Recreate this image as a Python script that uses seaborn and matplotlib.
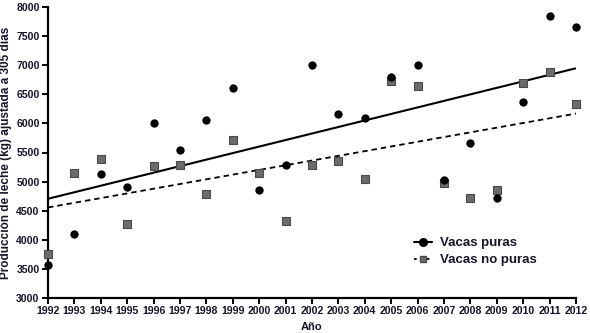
import numpy as np
import pandas as pd
import matplotlib
matplotlib.use("Agg")
import matplotlib.pyplot as plt
from matplotlib.lines import Line2D
import seaborn as sns

# Milk production (kg, adjusted to 305 days) per year
years = list(range(1992, 2013))
vacas_puras = [3560, 4100, 5130, 4900, 6000, 5540, 6050, 6600, 4860, 5280, 7010,
               6170, 6090, 6800, 7000, 5020, 5670, 4710, 6360, 7840, 7660]
vacas_no_puras = [3760, 5150, 5380, 4280, 5270, 5290, 4780, 5720, 5150, 4330, 5290,
                  5350, 5040, 6730, 6640, 4970, 4710, 4860, 6690, 6880, 6330]
y_ticks = list(range(3000, 8001, 500))
series_names = ["Vacas puras", "Vacas no puras"]

df = pd.DataFrame({"Año": years, "puras": vacas_puras, "no_puras": vacas_no_puras})

sns.set_theme(style="ticks")
plt.rcParams["font.family"] = ["Liberation Sans", "DejaVu Sans"]
txt = "#15152a"

fig = plt.figure(figsize=(5.9, 3.33), dpi=100)
ax = fig.add_axes([48 / 590, 1 - 298 / 333, (576 - 48) / 590, (298 - 7) / 333])

# regression lines
sns.regplot(data=df, x="Año", y="puras", scatter=False, ci=None, truncate=True,
            line_kws=dict(color="black", lw=1.5, solid_capstyle="butt"), ax=ax)
sns.regplot(data=df, x="Año", y="no_puras", scatter=False, ci=None, truncate=True,
            line_kws=dict(color="black", lw=1.3, dashes=(3, 2.2)), ax=ax)

# data points
sns.scatterplot(data=df, x="Año", y="no_puras", marker="s", s=30, color="#6b6b6b",
                edgecolor="#4a4a4a", linewidth=0.8, ax=ax, clip_on=False, zorder=3)
sns.scatterplot(data=df, x="Año", y="puras", marker="o", s=36, color="black",
                edgecolor="black", linewidth=0, ax=ax, clip_on=False, zorder=4)

ax.set_xlim(1992, 2012)
ax.set_ylim(3000, 8000)
ax.set_xticks(years)
ax.set_yticks(y_ticks)
ax.set_xticklabels([str(y) for y in years], fontsize=7.6, fontweight="bold", color=txt)
ax.set_yticklabels([str(v) for v in y_ticks], fontsize=7.6, fontweight="bold", color=txt)
ax.tick_params(axis="both", direction="out", length=4, width=1.4, pad=2, color="black")

for side in ("top", "right"):
    ax.spines[side].set_visible(False)
for side in ("left", "bottom"):
    ax.spines[side].set_linewidth(1.6)
    ax.spines[side].set_color("black")

ax.set_xlabel("Año", fontsize=8, fontweight="bold", color=txt, labelpad=4)
ax.set_ylabel("Producción de leche (kg) ajustada a 305 días", fontsize=8.5,
              fontweight="bold", color=txt, labelpad=3)

handles = [
    Line2D([0], [0], color="black", lw=1.5, marker="o", markersize=5.5,
           markerfacecolor="black", markeredgecolor="black"),
    Line2D([0], [0], color="black", lw=1.3, dashes=(1.5, 2), marker="s", markersize=5,
           markerfacecolor="#6b6b6b", markeredgecolor="#4a4a4a"),
]
leg = ax.legend(handles, series_names, loc="upper left", bbox_to_anchor=(0.67, 0.25),
                frameon=False, handlelength=1.4, handletextpad=0.6, labelspacing=0.35,
                prop=dict(size=9.5, weight="bold"))
for t in leg.get_texts():
    t.set_color(txt)

fig.savefig("out.png", dpi=100)
